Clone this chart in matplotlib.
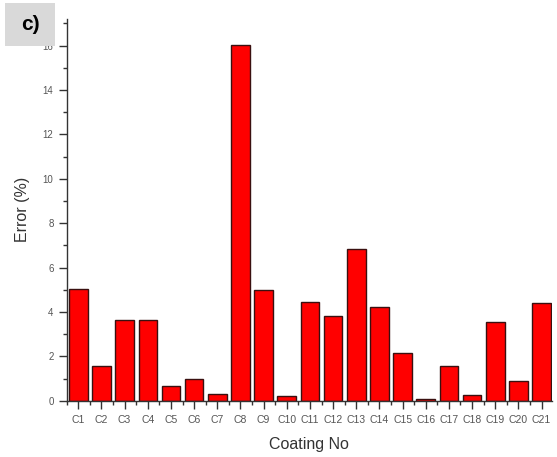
import matplotlib
matplotlib.use("Agg")
import matplotlib.pyplot as plt
from matplotlib.ticker import MultipleLocator
from matplotlib.patches import Rectangle

coatings = [f"C{i}" for i in range(1, 22)]
errors = [5.03, 1.56, 3.63, 3.63, 0.68, 1.0, 0.3, 16.05, 4.99, 0.23, 4.43,
          3.83, 6.83, 4.2, 2.16, 0.09, 1.56, 0.26, 3.56, 0.89, 4.39]

plt.rcParams["font.family"] = ["Liberation Sans", "DejaVu Sans"]

fig = plt.figure(figsize=(5.57, 4.57), dpi=100)
ax = fig.add_axes([66.7 / 557, 1 - 400.7 / 457, (552 - 66.7) / 557, (400.7 - 19) / 457])

pos = list(range(1, len(coatings) + 1))
ax.bar(pos, errors, width=0.8, color="#ff0000", edgecolor="#3a1010", linewidth=1.0)

ax.set_xlim(0.5, 21.45)
ax.set_ylim(0, 17.2)
ax.set_xticks(pos)
ax.set_xticklabels(coatings)
ax.xaxis.set_minor_locator(MultipleLocator(1, offset=0.5))
ax.yaxis.set_major_locator(MultipleLocator(2))
ax.yaxis.set_minor_locator(MultipleLocator(1))

for s in ("top", "right"):
    ax.spines[s].set_visible(False)
for s in ("left", "bottom"):
    ax.spines[s].set_color("#333333")
    ax.spines[s].set_linewidth(1.0)

ax.tick_params(axis="both", which="major", direction="out", length=6, width=1,
               color="#333333", labelsize=7, labelcolor="#555555")
ax.tick_params(axis="both", which="minor", direction="out", length=3, width=1,
               color="#333333")
ax.tick_params(axis="x", labelsize=7.5, pad=4)

ax.set_xlabel("Coating No", fontsize=11.5, color="#333333", labelpad=9)
ax.set_ylabel("Error (%)", fontsize=11.5, color="#333333", labelpad=9)

# panel label box
fig.patches.append(Rectangle((5 / 557, 1 - 46 / 457), 50 / 557, 43 / 457,
                             transform=fig.transFigure, facecolor="#d9d9d9",
                             edgecolor="none", zorder=10))
fig.text(30 / 557, 1 - 25 / 457, "c)", fontsize=15, fontweight="bold",
         ha="center", va="center", zorder=11)

fig.savefig("out.png", dpi=100)
